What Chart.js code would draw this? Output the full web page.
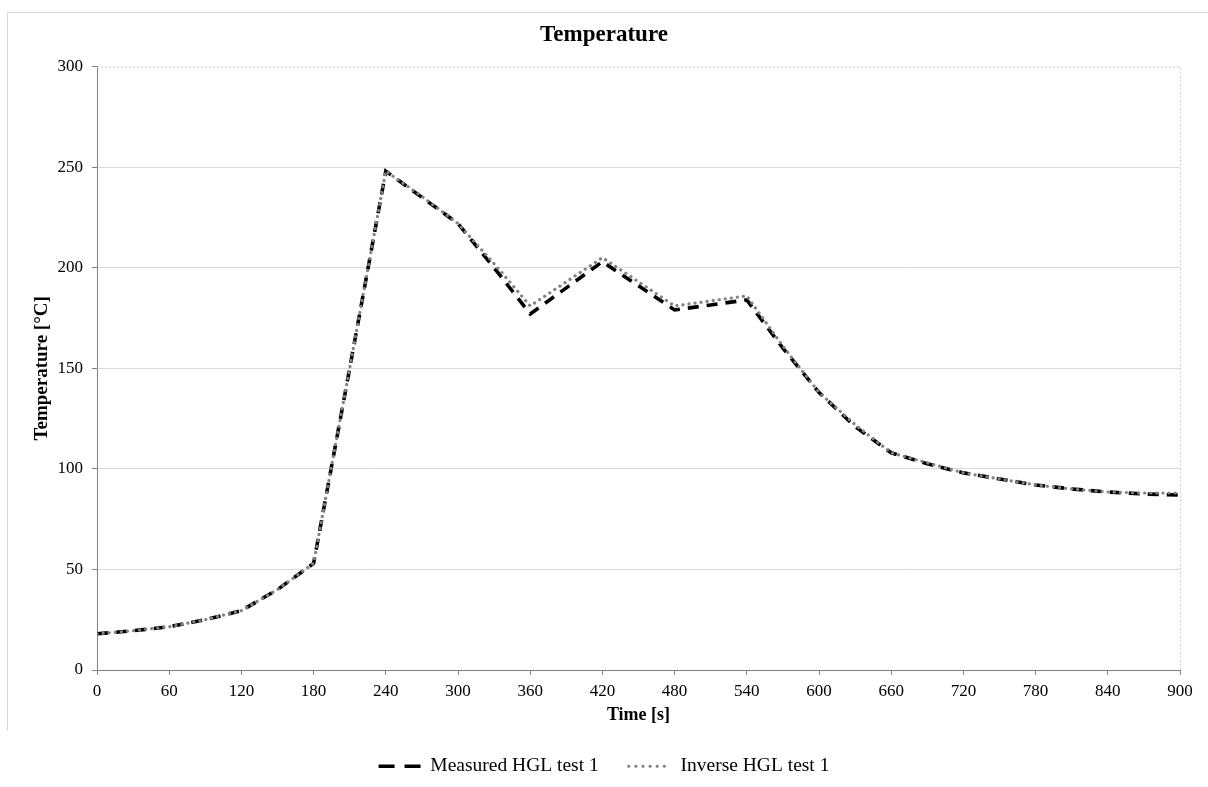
<!DOCTYPE html>
<html>
<head>
<meta charset="utf-8">
<script src="https://cdn.jsdelivr.net/npm/chart.js@4"></script>
<style>
  body { margin: 0; background: #fff; overflow: hidden; }
  #frame { position: absolute; left: 7px; top: 12px; width: 1220px; height: 718px;
           border-top: 1px solid #d9d9d9; border-left: 1px solid #d9d9d9; }
  #wrap { position: absolute; left: 0; top: 0; width: 1208px; height: 792px; }
</style>
</head>
<body>
<div id="frame"></div>
<div id="wrap"><canvas id="chart"></canvas></div>
<script>
// time [s]
const times = [0, 30, 60, 90, 120, 150, 180, 210, 240, 270, 300, 330, 360, 390, 420, 450,
  480, 510, 540, 570, 600, 630, 660, 690, 720, 750, 780, 810, 840, 870, 900];
// temperature [°C]
const measured = [18, 19.5, 21.5, 25, 29.5, 40, 53, 150, 248, 235, 222, 200, 177, 190, 203, 191,
  179, 181.5, 184, 160, 138, 121, 108, 102.5, 98, 95, 92, 90, 88.5, 87.5, 87];
const inverse = [18, 19.5, 21.5, 25, 29.5, 40, 53, 150, 248, 235.5, 222, 202, 181, 193, 205, 193,
  181, 183.5, 186, 161, 138, 122, 108, 103, 98, 95, 92, 90, 88.5, 88, 88];

const serif = '"Liberation Serif", "Times New Roman", serif';

const plotBorder = {
  id: 'plotBorder',
  beforeDatasetsDraw(chart) {
    const { ctx, chartArea: a } = chart;
    ctx.save();
    ctx.strokeStyle = '#c8c8c8';
    ctx.lineWidth = 1;
    ctx.setLineDash([2, 2]);
    ctx.beginPath();
    ctx.moveTo(a.left, a.top + 0.5);
    ctx.lineTo(a.right + 0.5, a.top + 0.5);
    ctx.lineTo(a.right + 0.5, a.bottom);
    ctx.stroke();
    ctx.restore();
  }
};

new Chart(document.getElementById('chart'), {
  type: 'line',
  data: {
    datasets: [
      {
        label: 'Measured HGL test 1',
        data: times.map((t, i) => ({ x: t, y: measured[i] })),
        borderColor: '#000',
        backgroundColor: '#000',
        borderWidth: 3.6,
        borderDash: [11, 8],
        pointRadius: 0,
        order: 1
      },
      {
        label: 'Inverse HGL test 1',
        data: times.map((t, i) => ({ x: t, y: inverse[i] })),
        borderColor: '#828282',
        backgroundColor: '#828282',
        borderWidth: 3.2,
        borderDash: [0.1, 6],
        borderCapStyle: 'round',
        pointRadius: 0,
        order: 0
      }
    ]
  },
  options: {
    responsive: true,
    maintainAspectRatio: false,
    animation: false,
    layout: { padding: { left: 28, right: 28, top: 12, bottom: 6 } },
    plugins: {
      title: {
        display: true,
        text: 'Temperature',
        color: '#000',
        font: { family: serif, size: 23, weight: 'bold' },
        padding: { top: 9, bottom: 18 }
      },
      legend: {
        position: 'bottom',
        labels: {
          color: '#000',
          font: { family: serif, size: 19.5 },
          usePointStyle: true,
          pointStyle: 'line',
          pointStyleWidth: 42,
          padding: 30,
          sort: (a, b) => a.datasetIndex - b.datasetIndex,
          generateLabels: chart => {
            const items = Chart.defaults.plugins.legend.labels.generateLabels(chart);
            items.forEach(it => {
              const ds = chart.data.datasets[it.datasetIndex];
              it.lineDash = it.datasetIndex === 0 ? [16, 10] : [0.1, 7];
              it.lineWidth = ds.borderWidth;
              it.lineCap = ds.borderCapStyle || 'butt';
              it.strokeStyle = ds.borderColor;
            });
            return items;
          }
        }
      },
      tooltip: { enabled: false }
    },
    scales: {
      x: {
        type: 'linear',
        min: 0,
        max: 900,
        afterBuildTicks: s => { s.ticks = times.filter(t => t % 60 === 0).map(v => ({ value: v })); },
        afterFit: s => { s.height = 56.5; },
        ticks: { color: '#000', font: { family: serif, size: 17 }, padding: 6, maxRotation: 0 },
        grid: { drawOnChartArea: false, drawTicks: true, tickLength: 5, tickColor: '#808080' },
        border: { color: '#808080', width: 1 },
        title: {
          display: true,
          text: 'Time [s]',
          color: '#000',
          font: { family: serif, size: 18, weight: 'bold' },
          padding: { top: 2, bottom: 0 }
        }
      },
      y: {
        min: 0,
        max: 300,
        ticks: { stepSize: 50, color: '#000', font: { family: serif, size: 17 }, padding: 9 },
        afterFit: s => { s.width = 69; },
        grid: {
          color: ctx => (ctx.tick && (ctx.tick.value === 300 || ctx.tick.value === 0)) ? 'rgba(0,0,0,0)' : '#d9d9d9',
          tickLength: 5,
          tickColor: '#808080'
        },
        border: { color: '#808080', width: 1 },
        title: {
          display: true,
          text: 'Temperature [°C]',
          color: '#000',
          font: { family: serif, size: 19, weight: 'bold' },
          padding: { top: 3, bottom: 4 }
        }
      }
    }
  },
  plugins: [plotBorder]
});
</script>
</body>
</html>
